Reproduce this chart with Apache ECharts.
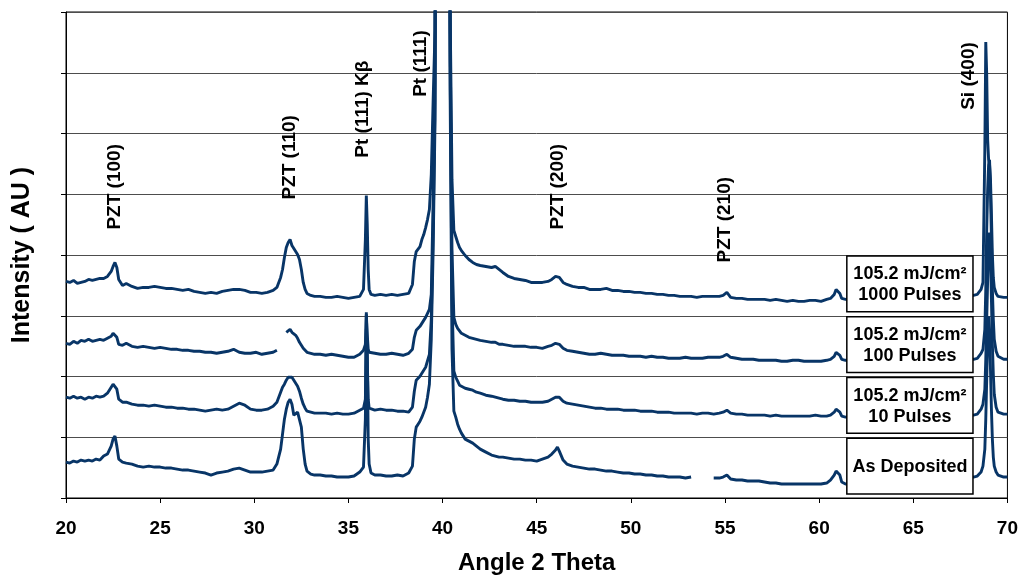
<!DOCTYPE html>
<html><head><meta charset="utf-8">
<script src="https://cdn.jsdelivr.net/npm/echarts@6/dist/echarts.min.js"></script>
<style>html,body{margin:0;padding:0;background:#fff}#c{width:1021px;height:580px}</style>
</head><body><div id="c"></div>
<script>
// 2-theta angles (degrees)
const angle = [
20.0,20.2,20.4,20.6,20.8,21.0,21.2,21.4,21.6,21.8,
22.0,22.2,22.4,22.5,22.6,22.7,22.8,23.0,23.2,23.5,
23.8,24.1,24.4,24.7,25.0,25.3,25.6,25.9,26.2,26.5,
26.8,27.1,27.4,27.7,28.0,28.3,28.6,28.9,29.2,29.5,
29.8,30.1,30.4,30.7,31.0,31.2,31.4,31.5,31.6,31.7,
31.8,31.9,32.0,32.1,32.2,32.3,32.4,32.5,32.6,32.7,
32.8,33.0,33.2,33.5,33.8,34.1,34.4,34.7,35.0,35.3,
35.6,35.8,35.9,35.95,36.0,36.05,36.1,36.2,36.4,36.7,
37.0,37.3,37.6,37.9,38.2,38.4,38.5,38.6,38.7,38.8,
38.9,39.0,39.1,39.2,39.3,39.4,39.5,39.6,39.8,40.0,
40.2,40.4,40.5,40.6,40.7,40.8,40.9,41.0,41.2,41.4,
41.6,41.8,42.0,42.3,42.6,42.8,42.9,43.0,43.2,43.5,
43.8,44.1,44.4,44.7,45.0,45.3,45.6,45.8,46.0,46.1,
46.2,46.4,46.6,46.9,47.2,47.5,47.8,48.1,48.4,48.7,
49.0,49.3,49.6,49.9,50.2,50.5,50.8,51.1,51.4,51.7,
52.0,52.3,52.6,52.9,53.2,53.5,53.8,54.1,54.4,54.7,
54.9,55.1,55.3,55.6,55.9,56.2,56.5,56.8,57.1,57.4,
57.7,58.0,58.3,58.6,58.9,59.2,59.5,59.8,60.1,60.4,
60.6,60.8,60.9,61.0,61.1,61.2,61.4,62.0,63.0,64.0,
65.0,66.0,67.0,68.0,68.2,68.4,68.5,68.6,68.7,68.8,
68.85,68.9,68.95,69.0,69.05,69.1,69.15,69.2,69.25,69.3,
69.4,69.5,69.6,69.8,70.0
];

// Intensity (AU, stacked offsets included)
const pulses1000 = [
217,216,218,215,216,217,219,218,219,220,
220,222,227,232,236,231,219,213,215,212,
210,211,211,212,211,210,210,209,208,209,
207,206,205,206,205,207,208,209,209,208,
206,206,205,206,208,211,221,229,241,251,
256,259,253,252,247,244,239,229,216,209,
205,203,202,202,201,201,202,201,200,201,
202,209,259,303,274,229,209,204,203,204,
203,204,203,204,205,214,237,247,249,252,
259,264,271,279,289,324,399,469,2600,4200,
2600,494,319,268,262,256,251,248,243,239,
236,234,233,232,231,232,234,229,226,222,
220,219,218,216,216,216,217,219,222,224,
221,216,214,212,211,211,209,209,209,210,
208,208,207,207,206,206,205,205,204,204,
203,203,202,202,202,201,202,202,202,202,
203,206,201,200,200,199,199,199,199,198,
199,198,197,198,197,197,198,198,197,199,
200,204,209,210,205,200,199,199,199,199,
200,201,202,203,203,204,206,209,216,349,
457,424,359,339,334,319,284,244,221,211,
205,202,201,201,201
];
const pulses100 = [
155,154,157,155,158,157,159,157,158,159,
158,160,162,165,166,161,154,153,155,152,
151,152,151,150,151,150,149,149,148,148,
147,147,146,146,145,146,147,149,146,145,
145,146,144,145,146,148,null,null,null,166,
168,169,166,165,163,160,156,153,150,148,
146,145,144,144,143,144,143,142,141,141,
144,148,154,184,164,149,146,144,145,144,
144,145,144,143,145,149,161,168,170,172,
175,178,181,183,189,204,299,439,2400,4000,
2400,469,249,181,174,170,168,165,163,161,
160,159,158,157,156,156,155,154,154,153,
152,152,152,151,151,150,152,153,155,156,
154,150,148,147,146,145,144,144,145,144,
143,143,143,142,142,142,141,142,141,141,
140,140,140,141,140,140,140,141,141,141,
142,144,141,140,139,139,139,138,138,138,
138,137,137,138,138,137,137,137,137,138,
139,142,146,147,143,139,138,138,138,138,
138,138,139,139,139,140,142,145,149,169,
209,269,309,334,339,309,259,209,179,159,
147,142,140,139,139
];
const pulses10 = [
101,100,102,100,101,99,101,100,102,101,
102,105,111,114,116,109,99,96,96,94,
93,93,92,93,92,91,91,90,90,89,
89,88,87,88,89,88,89,92,95,93,
89,88,88,89,92,96,106,111,114,118,
121,122,121,118,115,112,107,100,94,90,
87,86,85,85,85,84,85,84,84,85,
88,90,99,169,139,99,90,88,88,89,
88,88,87,87,86,91,107,118,120,122,
125,128,131,133,144,179,269,399,2300,3800,
2300,439,199,127,121,117,113,111,110,109,
108,106,105,103,102,101,100,100,99,98,
98,97,97,96,96,96,97,99,101,103,
101,97,95,94,93,92,91,90,90,89,
89,89,88,88,88,87,87,87,86,86,
86,85,85,85,85,84,85,85,84,85,
86,88,85,84,84,83,83,83,83,82,
83,82,82,82,82,82,82,83,82,82,
83,86,89,90,86,82,81,82,82,82,
82,82,83,83,83,84,86,89,94,109,
139,179,219,254,266,244,199,154,124,104,
91,86,85,84,84
];
const asDeposited = [
36,35,37,36,38,37,38,37,39,38,
42,44,52,59,62,52,39,36,35,34,
32,31,32,31,31,30,30,29,28,28,
27,26,25,23,25,26,27,29,30,28,
26,26,26,27,28,34,49,64,79,89,
96,99,94,83,81,86,84,71,49,34,
27,24,23,23,22,22,21,21,21,22,
26,31,79,186,149,59,34,25,23,23,
22,22,23,22,25,32,59,71,74,77,
81,86,91,101,114,159,249,379,2200,3600,
2200,409,149,87,81,74,69,65,59,57,
55,52,49,46,43,42,42,41,41,40,
39,39,38,38,37,39,41,44,48,51,
47,38,34,32,31,30,29,29,28,27,
27,26,25,25,24,24,23,23,22,22,
21,21,21,20,21,null,null,null,20,20,
21,23,19,18,18,17,17,17,16,15,
15,14,14,14,14,14,14,14,14,15,
18,23,27,29,23,16,14,15,16,17,
18,19,20,21,21,22,23,26,32,49,
79,119,159,182,169,129,89,59,41,32,
26,23,22,21,21
];

const seriesNames = ['105.2 mJ/cm²\n1000 Pulses', '105.2 mJ/cm²\n100 Pulses', '105.2 mJ/cm²\n10 Pulses', 'As Deposited'];
const peakNames = ['PZT (100)', 'PZT (110)', 'Pt (111) Kβ', 'Pt (111)', 'PZT (200)', 'PZT (210)', 'Si (400)'];
const peakAngles = [22.6, 31.88, 35.78, 38.86, 46.12, 54.99, 67.93];

const FONT = '"Liberation Sans", Arial, Helvetica, sans-serif';
const LINE = '#083567';
const BAND = 60.875;

const chart = echarts.init(document.getElementById('c'), null, {renderer: 'canvas'});
function pairs(arr) { return angle.map((a, i) => [a, arr[i] == null ? '-' : arr[i]]); }
const allSeries = [pulses1000, pulses100, pulses10, asDeposited];

chart.setOption({
  animation: false,
  backgroundColor: '#fff',
  grid: {left: 66, right: 13, top: 12, bottom: 81, show: true, borderColor: '#000', borderWidth: 1, backgroundColor: 'transparent'},
  xAxis: {
    type: 'value', min: 20, max: 70, interval: 5,
    name: 'Angle 2 Theta', nameLocation: 'middle', nameGap: 53,
    nameTextStyle: {fontFamily: FONT, fontWeight: 'bold', fontSize: 24, color: '#000'},
    axisLine: {show: true, lineStyle: {color: '#000', width: 1}},
    axisTick: {show: true, inside: false, length: 5, lineStyle: {color: '#000'}},
    axisLabel: {show: true, fontFamily: FONT, fontWeight: 'bold', fontSize: 19, color: '#000', margin: 21},
    splitLine: {show: false}
  },
  yAxis: {
    type: 'value', min: 0, max: 487, interval: BAND,
    name: 'Intensity ( AU )', nameLocation: 'middle', nameGap: 31,
    nameTextStyle: {fontFamily: FONT, fontWeight: 'bold', fontSize: 25, color: '#000'},
    axisLine: {show: true, lineStyle: {color: '#000', width: 1}},
    axisTick: {show: true, inside: false, length: 5, lineStyle: {color: '#000'}},
    axisLabel: {show: false},
    splitLine: {show: true, lineStyle: {color: '#4d4d4d', width: 1}}
  },
  series: allSeries.map((s, i) => ({
    name: seriesNames[i], type: 'line', data: pairs(s), showSymbol: false, symbol: 'none',
    lineStyle: {color: LINE, width: 2.9}, clip: true, z: 2
  }))
});

function px(x, y) { return chart.convertToPixel({gridIndex: 0}, [x, y]); }
const graphics = [];
seriesNames.forEach((txt, k) => {
  const top = (4 - k) * BAND - 1, bottom = (3 - k) * BAND + 4;
  const p1 = px(61.47, top), p2 = px(68.17, bottom);
  graphics.push({type: 'rect', z: 100, shape: {x: p1[0], y: p1[1], width: p2[0] - p1[0], height: p2[1] - p1[1]},
    style: {fill: '#fff', stroke: '#000', lineWidth: 1.5}});
  graphics.push({type: 'text', z: 101, x: (p1[0] + p2[0]) / 2, y: (p1[1] + p2[1]) / 2 + 1,
    style: {text: txt, fill: '#000', fontFamily: FONT, fontWeight: 'bold', fontSize: 18, lineHeight: 21,
      align: 'center', verticalAlign: 'middle', textAlign: 'center', textVerticalAlign: 'middle'}});
});
const labelBase = [269, 299, 341, 402, 269, 236, 389];
peakNames.forEach((name, i) => {
  const p = px(peakAngles[i], labelBase[i]);
  graphics.push({type: 'text', z: 101, x: p[0], y: p[1], rotation: Math.PI / 2,
    style: {text: name, fill: '#000', fontFamily: FONT, fontWeight: 'bold', fontSize: 19,
      align: 'left', verticalAlign: 'middle', textAlign: 'left', textVerticalAlign: 'middle'}});
});
chart.setOption({graphic: graphics});
</script>
</body></html>
